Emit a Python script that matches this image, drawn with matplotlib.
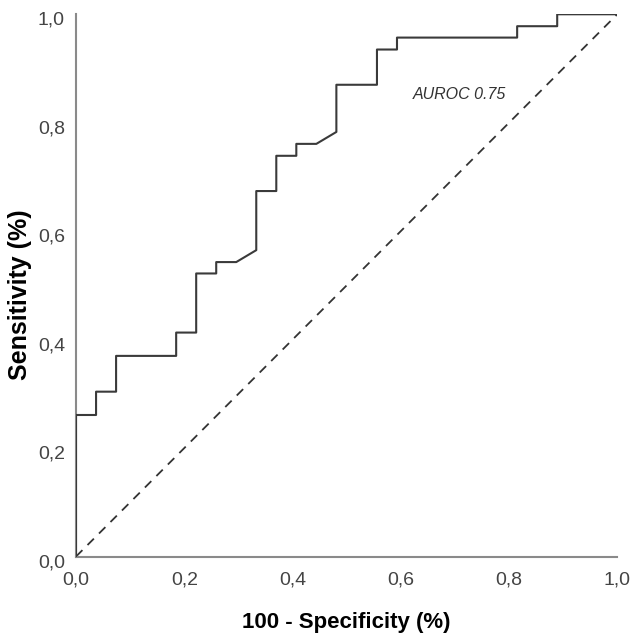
import matplotlib
matplotlib.use("Agg")
import matplotlib.pyplot as plt
from matplotlib.ticker import FuncFormatter
from matplotlib.transforms import ScaledTranslation

# ROC curve vertices (1 - specificity, sensitivity)
fpr = [0.0, 0.0, 0.037, 0.037, 0.074, 0.074, 0.185, 0.185, 0.222, 0.222,
       0.259, 0.259, 0.296, 0.333, 0.333, 0.370, 0.370, 0.407, 0.407, 0.444,
       0.481, 0.481, 0.556, 0.556, 0.593, 0.593, 0.815, 0.815, 0.889, 0.889, 1.0]
tpr = [0.0, 0.261, 0.261, 0.304, 0.304, 0.370, 0.370, 0.413, 0.413, 0.522,
       0.522, 0.543, 0.543, 0.565, 0.674, 0.674, 0.739, 0.739, 0.761, 0.761,
       0.783, 0.870, 0.870, 0.935, 0.935, 0.957, 0.957, 0.978, 0.978, 1.0, 1.0]
ref_line = [0.0, 1.0]
ticks = [0.0, 0.2, 0.4, 0.6, 0.8, 1.0]
auc_label = "AUROC 0.75"

plt.rcParams["font.family"] = ["Liberation Sans", "DejaVu Sans"]

fig = plt.figure(figsize=(6.32, 6.43), dpi=100)
ax = fig.add_axes([0.1203, 0.1345, 0.8564, 0.8433])

ax.plot(ref_line, ref_line, color="#333333", linewidth=1.3,
        linestyle=(0, (5, 4)), zorder=2)
ax.plot(fpr, tpr, color="#3a3a3a", linewidth=1.5, zorder=3)

ax.text(0.623, 0.852, auc_label, style="italic", fontsize=11.5,
        color="#333333", va="center", ha="left")

ax.set_xlim(0, 1)
ax.set_ylim(0, 1)
ax.set_xticks(ticks)
ax.set_yticks(ticks)
fmt = FuncFormatter(lambda v, p: f"{v:.1f}".replace(".", ","))
ax.xaxis.set_major_formatter(fmt)
ax.yaxis.set_major_formatter(fmt)
ax.tick_params(length=0, labelsize=14, labelcolor="#444444")
ax.tick_params(axis="x", pad=11)
ax.tick_params(axis="y", pad=8)

# y tick labels sit a little below their gridline in the original
shift = ScaledTranslation(0, -0.04, fig.dpi_scale_trans)
for lab in ax.get_yticklabels():
    lab.set_transform(lab.get_transform() + shift)

for side in ["top", "right"]:
    ax.spines[side].set_visible(False)
for side in ["left", "bottom"]:
    ax.spines[side].set_color("#8a8a8a")
    ax.spines[side].set_linewidth(1.5)

ax.set_xlabel("100 - Specificity (%)", fontsize=16, fontweight="bold", labelpad=17)
ax.set_ylabel("Sensitivity (%)", fontsize=18, fontweight="bold")
ax.yaxis.set_label_coords(-0.081, 0.482)

fig.savefig("out.png", dpi=100)
